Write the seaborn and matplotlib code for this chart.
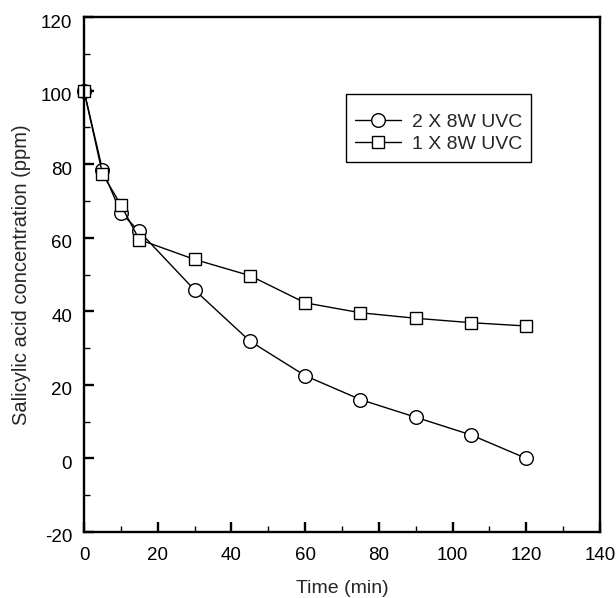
import numpy as np
import pandas as pd
import matplotlib
matplotlib.use("Agg")
import matplotlib.pyplot as plt
import matplotlib.transforms as mtransforms
from matplotlib.ticker import MultipleLocator
import seaborn as sns

# data
time_min = [0, 5, 10, 15, 30, 45, 60, 75, 90, 105, 120]
conc_2x8w = [100, 78.5, 66.8, 61.7, 45.8, 31.9, 22.5, 16.0, 11.2, 6.4, 0.0]
conc_1x8w = [100, 77.4, 68.9, 59.5, 54.1, 49.7, 42.3, 39.6, 38.1, 36.9, 36.0]
series_names = ['2 X 8W UVC', '1 X 8W UVC']

df = pd.DataFrame({
    'time': time_min * 2,
    'conc': conc_2x8w + conc_1x8w,
    'series': [series_names[0]] * len(time_min) + [series_names[1]] * len(time_min),
})

sns.set_style('ticks')
plt.rcParams['font.family'] = ['Liberation Sans', 'DejaVu Sans']
plt.rcParams['axes.unicode_minus'] = False

fig = plt.figure(figsize=(6.16, 5.98), dpi=100)
ax = fig.add_axes([84 / 616, 1 - 532 / 598, 516 / 616, 515 / 598])

marker_for = {series_names[0]: 'o', series_names[1]: 's'}
size_for = {series_names[0]: 9.8, series_names[1]: 8.2}
for name in series_names:
    sub = df[df['series'] == name]
    sns.lineplot(data=sub, x='time', y='conc', ax=ax, color='black', lw=1.0,
                 marker=marker_for[name], markersize=size_for[name],
                 markerfacecolor='white', markeredgecolor='black', markeredgewidth=1.0,
                 label=name, clip_on=False)

ax.set_xlim(0, 140)
ax.set_ylim(-20, 120)
ax.xaxis.set_major_locator(MultipleLocator(20))
ax.xaxis.set_minor_locator(MultipleLocator(10))
ax.yaxis.set_major_locator(MultipleLocator(20))
ax.yaxis.set_minor_locator(MultipleLocator(10))

for s in ax.spines.values():
    s.set_linewidth(1.7)
    s.set_color('black')
    s.set_visible(True)

ax.tick_params(which='major', direction='in', length=7.5, width=1.7, colors='black',
               labelsize=13.5, top=False, right=False)
ax.tick_params(which='minor', direction='in', length=4, width=1.0, colors='black',
               top=False, right=False)
ax.tick_params(axis='x', which='major', pad=11)
ax.tick_params(axis='y', which='major', pad=8.5)

# y tick labels sit slightly below their ticks in the original
offset = mtransforms.ScaledTranslation(0, -0.04, fig.dpi_scale_trans)
for lab in ax.get_yticklabels():
    lab.set_transform(lab.get_transform() + offset)

ax.set_xlabel('Time (min)', fontsize=14)
ax.set_ylabel('Salicylic acid concentration (ppm)', fontsize=14.5)
ax.xaxis.set_label_coords(0.5, -0.093)
ax.yaxis.set_label_coords(-0.103, 0.5)

leg = ax.legend(loc='upper left', bbox_to_anchor=((346 - 84) / 516, (532 - 94) / 515),
                borderaxespad=0, fontsize=14, frameon=True, fancybox=False,
                edgecolor='black', handlelength=2.4, handletextpad=0.55,
                borderpad=0.45, labelspacing=0.2, title=' ', title_fontsize=5)
leg.get_frame().set_linewidth(1.0)
leg.get_frame().set_alpha(1)

fig.savefig('out.png', dpi=100)
